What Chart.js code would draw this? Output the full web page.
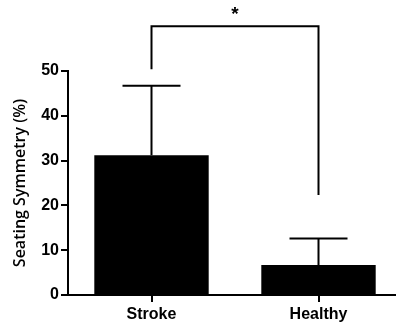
<!DOCTYPE html>
<html>
<head>
<meta charset="utf-8">
<script src="https://cdn.jsdelivr.net/npm/chart.js@4/dist/chart.umd.min.js"></script>
<style>
  html, body { margin: 0; padding: 0; background: #fff; overflow: hidden; }
  #wrap { width: 402px; height: 325px; }
</style>
</head>
<body>
<div id="wrap"><canvas id="symmetryChart"></canvas></div>
<script>
const groups = ['Stroke', 'Healthy'];
const meanSymmetry = [31.2, 6.7];
const errorUpper = [46.7, 12.6];
const yTicks = [0, 10, 20, 30, 40, 50];
// significance bracket: heights of left leg, top and right leg (in % units)
const bracketLevels = [50.4, 60, 22.3];
const starLabel = '*';

const errorBars = {
  id: 'errorBars',
  afterDatasetsDraw(chart) {
    const ctx = chart.ctx;
    const meta = chart.getDatasetMeta(0);
    const y = chart.scales.y;
    ctx.save();
    ctx.strokeStyle = '#000';
    ctx.lineWidth = 2;
    meta.data.forEach((bar, i) => {
      const top = y.getPixelForValue(errorUpper[i]);
      ctx.beginPath();
      ctx.moveTo(bar.x, bar.y);
      ctx.lineTo(bar.x, top);
      ctx.moveTo(bar.x - 29, top);
      ctx.lineTo(bar.x + 29, top);
      ctx.stroke();
    });

    // bracket with star
    const x1 = meta.data[0].x, x2 = meta.data[1].x;
    const yl = y.getPixelForValue(bracketLevels[0]);
    const yt = y.getPixelForValue(bracketLevels[1]);
    const yr = y.getPixelForValue(bracketLevels[2]);
    ctx.beginPath();
    ctx.moveTo(x1, yl);
    ctx.lineTo(x1, yt);
    ctx.lineTo(x2, yt);
    ctx.lineTo(x2, yr);
    ctx.stroke();
    ctx.fillStyle = '#000';
    ctx.font = 'bold 19px "Liberation Sans", Arial, sans-serif';
    ctx.textAlign = 'center';
    ctx.textBaseline = 'middle';
    ctx.fillText(starLabel, (x1 + x2) / 2, yt - 11);
    ctx.restore();
  }
};

document.addEventListener('DOMContentLoaded', function () {
  const ctx = document.getElementById('symmetryChart').getContext('2d');
  new Chart(ctx, {
    type: 'bar',
    data: {
      labels: groups,
      datasets: [{
        data: meanSymmetry,
        backgroundColor: '#000',
        borderWidth: 0,
        barPercentage: 0.685,
        categoryPercentage: 1
      }]
    },
    options: {
      responsive: true,
      maintainAspectRatio: false,
      animation: false,
      layout: { padding: { top: 71, right: 0, left: 0, bottom: 0 } },
      plugins: {
        legend: { display: false },
        tooltip: { enabled: false }
      },
      scales: {
        x: {
          grid: {
            offset: false,
            drawOnChartArea: false,
            drawTicks: true,
            tickLength: 7,
            color: '#000',
            lineWidth: 2
          },
          border: { color: '#000', width: 2 },
          ticks: {
            color: '#000',
            padding: 3,
            font: { family: '"Liberation Sans", Arial, sans-serif', size: 16, weight: 'bold' }
          },
          afterFit(scale) { scale.height = 30; }
        },
        y: {
          min: 0,
          max: 50,
          afterBuildTicks(scale) { scale.ticks = yTicks.map(v => ({ value: v })); },
          grid: {
            drawOnChartArea: false,
            drawTicks: true,
            tickLength: 7,
            color: '#000',
            lineWidth: 2
          },
          border: { color: '#000', width: 2 },
          ticks: {
            color: '#000',
            padding: 2,
            font: { family: '"Liberation Sans", Arial, sans-serif', size: 16, weight: 'bold' }
          },
          title: {
            display: true,
            text: 'Seating Symmetry (%)',
            color: '#000',
            padding: { top: 11, bottom: 0 },
            font: { family: '"Open Sans", sans-serif', size: 16, weight: '600' }
          },
          afterFit(scale) { scale.width = 68; }
        }
      }
    },
    plugins: [errorBars]
  });
});
</script>
</body>
</html>
